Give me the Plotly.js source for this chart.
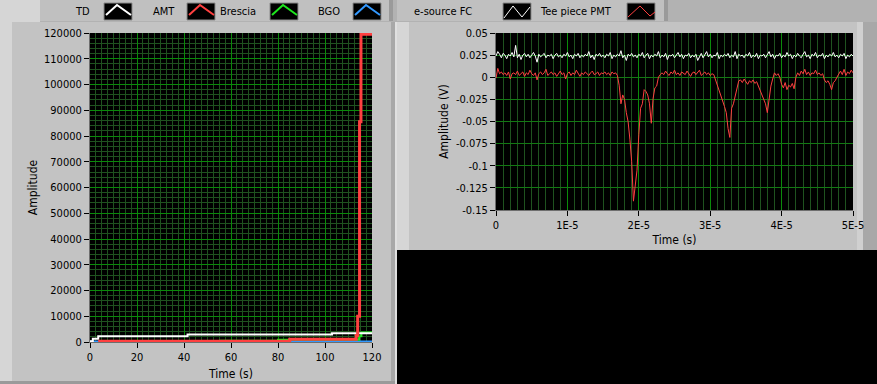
<!DOCTYPE html>
<html><head><meta charset="utf-8">
<script src="https://cdn.plot.ly/plotly-3.0.1.min.js"></script>
<style>html,body{margin:0;padding:0;background:#b4b4b4;overflow:hidden}</style>
</head><body><div id="chart" style="width:877px;height:384px"></div>
<script>
// ---------- Left chart (Amplitude vs Time, s) ----------
const tdTime = [0, 1.2, 3.5, 41.5, 103, 120];
const tdAmp  = [300, 1300, 2200, 2900, 3400, 3400];
const amtTime = [3.5, 85, 113.3, 113.9, 114.7, 115.3, 120];
const amtAmp  = [300, 1100, 2500, 10000, 85500, 119500, 119500];
const brTime = [55, 80, 113.4, 114.5, 115.5, 120];
const brAmp  = [500, 900, 900, 2200, 3700, 3700];
const bgoTime = [0, 113, 120];
const bgoAmp  = [150, 150, 300];

// ---------- Right chart (Amplitude (V) vs Time, s), sampled every 0.25 µs ----------
const waveT0 = 0;
const waveDt = 2.5e-7;
const esourceFC = [
 0.024,0.029,0.026,0.022,0.027,0.025,0.021,0.026,0.024,0.028,
 0.023,0.036,0.022,0.026,0.020,0.025,0.027,0.023,0.026,0.022,
 0.025,0.028,0.024,0.017,0.026,0.023,0.025,0.027,0.022,0.025,
 0.024,0.026,0.021,0.025,0.027,0.023,0.025,0.022,0.026,0.024,
 0.028,0.023,0.025,0.021,0.026,0.024,0.027,0.022,0.025,0.023,
 0.026,0.024,0.029,0.022,0.025,0.020,0.026,0.024,0.027,0.023,
 0.025,0.022,0.026,0.024,0.028,0.021,0.025,0.023,0.026,0.024,
 0.030,0.022,0.025,0.019,0.026,0.024,0.027,0.023,0.025,0.022,
 0.026,0.024,0.028,0.022,0.025,0.027,0.021,0.025,0.023,0.026,
 0.024,0.029,0.022,0.025,0.023,0.027,0.020,0.025,0.024,0.026,
 0.022,0.025,0.028,0.023,0.026,0.021,0.025,0.024,0.027,0.022,
 0.025,0.023,0.026,0.019,0.024,0.027,0.022,0.025,0.029,0.023,
 0.026,0.022,0.025,0.024,0.028,0.021,0.025,0.023,0.026,0.024,
 0.027,0.022,0.025,0.023,0.029,0.021,0.026,0.024,0.025,0.022,
 0.026,0.024,0.028,0.022,0.025,0.023,0.027,0.021,0.025,0.024,
 0.026,0.022,0.025,0.029,0.023,0.026,0.021,0.025,0.024,0.027,
 0.022,0.025,0.023,0.028,0.024,0.026,0.021,0.025,0.023,0.027,
 0.024,0.022,0.026,0.029,0.023,0.025,0.021,0.026,0.024,0.028,
 0.022,0.025,0.024,0.027,0.021,0.025,0.023,0.026,0.024,0.028,
 0.023,0.025,0.022,0.026,0.024,0.027,0.021,0.025,0.023,0.026,
 0.024
];
const teePiecePMT = [
 -0.001,0.010,0.004,0.006,0.003,0.005,0.002,0.006,-0.002,0.004,
 0.005,0.003,0.007,0.002,0.004,0.006,0.001,0.005,0.003,0.008,
 0.004,0.002,0.005,-0.003,0.004,0.006,0.003,0.005,0.009,0.002,
 0.004,0.006,0.003,0.005,0.001,0.004,0.007,0.003,0.005,-0.002,
 0.004,0.006,0.002,0.005,0.003,0.008,0.004,0.001,0.005,0.003,
 0.006,0.004,0.002,0.005,0.007,0.003,0.004,0.006,0.002,0.005,
 0.004,0.006,0.003,0.005,0.002,0.006,0.004,0.005,
 0.002,-0.009,-0.030,-0.020,-0.025,-0.040,-0.050,-0.070,-0.095,-0.140,
 -0.120,-0.105,-0.065,-0.035,-0.030,-0.014,-0.016,-0.020,-0.030,-0.052,
 -0.024,-0.012,-0.010,0.000,0.003,
 0.005,0.003,0.007,0.004,0.002,0.006,0.004,0.008,0.003,0.005,
 0.002,0.006,0.004,0.003,0.007,0.004,0.001,0.005,0.006,0.003,
 0.005,0.008,0.002,0.004,0.006,0.003,0.005,0.002,0.004,0.003,
 -0.003,-0.008,-0.013,-0.020,-0.026,-0.033,-0.040,-0.058,-0.068,-0.035,
 -0.030,-0.020,-0.010,-0.004,
 -0.003,-0.006,-0.002,-0.005,-0.008,-0.004,-0.006,-0.003,-0.007,-0.005,
 -0.010,-0.015,-0.020,-0.026,-0.030,-0.040,-0.025,-0.010,-0.002,0.005,
 0.002,0.004,0.000,
 -0.008,-0.012,-0.006,-0.014,-0.009,-0.011,-0.007,-0.013,
 0.000,0.005,0.002,0.007,0.004,0.009,0.003,0.006,0.002,0.005,
 0.004,0.008,0.003,0.005,0.002,0.004,
 -0.003,-0.006,-0.004,-0.008,-0.014,-0.006,-0.004,0.000,
 0.004,0.007,0.003,0.009,0.002,0.006,0.004,0.008,0.005
];
const rightYTicks = [0.05, 0.025, 0, -0.025, -0.05, -0.075, -0.1, -0.125, -0.15];
const rightYLabels = ['0.05','0.025','0','-0.025','-0.05','-0.075','-0.1','-0.125','-0.15'];
const rightXTicks = [0, 1e-5, 2e-5, 3e-5, 4e-5, 5e-5];
const rightXLabels = ['0','1E-5','2E-5','3E-5','4E-5','5E-5'];

const leftNames = ['TD','AMT','Brescia','BGO'];
const leftColors = ['#ffffff','#ff4040','#1ee61e','#3399ff'];
const rightNames = ['e-source FC','Tee piece PMT'];
const rightColors = ['#ffffff','#ff4040'];

// ---------- helpers (pixel -> paper for frame decorations) ----------
const W = 877, H = 384;
const px = x => x / W;
const py = y => 1 - y / H;
const FONT = '"DejaVu Sans Condensed", "DejaVu Sans", sans-serif';

function rect(x0,y0,x1,y1,fill,line){
  return {type:'rect',xref:'paper',yref:'paper',x0:px(x0),x1:px(x1),y0:py(y1),y1:py(y0),
          fillcolor:fill,line:{width:line?1:0,color:line||fill},layer:'below'};
}
function plotBg(xa,ya){
  return {type:'rect',xref:xa+' domain',yref:ya+' domain',x0:0,x1:1,y0:0,y1:1,
          fillcolor:'#000000',line:{width:0},layer:'below'};
}
function path(pts,color,width,layer){
  const d = pts.map((p,i)=>(i?'L':'M')+px(p[0]).toFixed(5)+','+py(p[1]).toFixed(5)).join(' ');
  return {type:'path',xref:'paper',yref:'paper',path:d,line:{color:color,width:width},layer:layer||'above'};
}

const shapes = [
  rect(0,0,877,22,'#b2b2b2'),
  rect(0,0,40,22,'#d6d6d6'),
  rect(40,0,393,21,'#c0c0c0'),
  rect(389,0,393,21,'#9a9a9a'),
  rect(397,0,668,21,'#c0c0c0'),
  rect(664,0,668,21,'#9a9a9a'),
  rect(0,22,395,384,'#c3c3c3'),
  rect(0,22,12,384,'#d6d6d6'),
  rect(391,22,395,384,'#a8a8a8'),
  rect(0,381,395,384,'#9a9a9a'),
  rect(395,22,397,384,'#e0e0e0'),
  rect(397,22,863,250,'#c3c3c3'),
  rect(397,22,409,250,'#d6d6d6'),
  rect(857,22,863,250,'#d0d0d0'),
  rect(863,22,877,250,'#a8a8a8'),
  rect(397,250,877,384,'#000000'),
  plotBg('x','y'),
  plotBg('x2','y2')
];
const annotations = [];

// left legend
const leftLegend = [[92,104],[177,187],[258,270],[342,353]];
leftNames.forEach((n,i)=>{
  const [tx,bx] = leftLegend[i];
  annotations.push({xref:'paper',yref:'paper',x:px(tx),y:py(11),xanchor:'right',yanchor:'middle',
    text:n,showarrow:false,font:{family:FONT,size:11,color:'#000'}});
  shapes.push(rect(bx,3,bx+28,20,'#000000','#8a8a8a'));
  shapes.push(path([[bx+2,15],[bx+13,5],[bx+27,15]],leftColors[i],2));
});
// right legend
const rightLegend = [[412,503],[538,627]];
rightNames.forEach((n,i)=>{
  const [tx,bx] = rightLegend[i];
  annotations.push({xref:'paper',yref:'paper',x:px(tx),y:py(11),xanchor:'left',yanchor:'middle',
    text:n,showarrow:false,font:{family:FONT,size:11,color:'#000'}});
  shapes.push(rect(bx,3,bx+28,20,'#000000','#8a8a8a'));
});
shapes.push(path([[504,18],[513,6],[522,17],[530,7]],rightColors[0],1));
shapes.push(path([[628,17],[640,6],[650,16],[655,12]],rightColors[1],1));

// ---------- traces ----------
const traces = [
  {x:bgoTime,y:bgoAmp,name:leftNames[3],line:{color:leftColors[3],width:2,shape:'hv'}},
  {x:brTime,y:brAmp,name:leftNames[2],line:{color:leftColors[2],width:2,shape:'hv'}},
  {x:tdTime,y:tdAmp,name:leftNames[0],line:{color:leftColors[0],width:2,shape:'hv'}},
  {x:amtTime,y:amtAmp,name:leftNames[1],line:{color:leftColors[1],width:3,shape:'hv'}},
  {x0:waveT0,dx:waveDt,y:esourceFC,name:rightNames[0],xaxis:'x2',yaxis:'y2',line:{color:rightColors[0],width:1}},
  {x0:waveT0,dx:waveDt,y:teePiecePMT,name:rightNames[1],xaxis:'x2',yaxis:'y2',line:{color:rightColors[1],width:1}}
].map(t=>Object.assign({type:'scatter',mode:'lines',hoverinfo:'skip',cliponaxis:true},t));

const tickFont = {family:FONT,size:11,color:'#000'};
const titleFont = {family:FONT,size:12,color:'#000'};
const common = {ticks:'outside',ticklen:5,tickwidth:1,tickcolor:'#000',zeroline:false,
  showline:true,linecolor:'#6e6e6e',linewidth:1,tickfont:tickFont,fixedrange:true,automargin:false};

const layout = {
  width:W,height:H,margin:{l:0,r:0,t:0,b:0},
  paper_bgcolor:'#b4b4b4',plot_bgcolor:'#000000',showlegend:false,
  xaxis:Object.assign({},common,{domain:[px(90),px(372)],range:[0,120],tick0:0,dtick:20,anchor:'y',
    showgrid:true,gridcolor:'#0a8a0a',gridwidth:1,
    minor:{dtick:2.5,tick0:0,showgrid:true,gridcolor:'#1f521f',gridwidth:1,ticklen:0},
    title:{text:'Time (s)',font:titleFont,standoff:6}}),
  yaxis:Object.assign({},common,{domain:[py(342),py(33)],range:[0,120000],tick0:0,dtick:10000,tickformat:'d',anchor:'x',
    showgrid:true,gridcolor:'#0a8a0a',gridwidth:1,
    minor:{dtick:2000,tick0:0,showgrid:true,gridcolor:'#1f521f',gridwidth:1,ticklen:0},
    title:{text:'Amplitude',font:titleFont,standoff:3}}),
  xaxis2:Object.assign({},common,{domain:[px(496),px(853)],range:[0,5e-5],tickmode:'array',
    tickvals:rightXTicks,ticktext:rightXLabels,anchor:'y2',
    showgrid:true,gridcolor:'#0a8a0a',gridwidth:1,
    minor:{dtick:1e-6,tick0:0,showgrid:true,gridcolor:'#1f521f',gridwidth:1,ticklen:0},
    title:{text:'Time (s)',font:titleFont,standoff:4}}),
  yaxis2:Object.assign({},common,{domain:[py(210),py(33)],range:[-0.15,0.05],tickmode:'array',
    tickvals:rightYTicks,ticktext:rightYLabels,anchor:'x2',
    showgrid:true,gridcolor:'#137813',gridwidth:1,
    title:{text:'Amplitude (V)',font:titleFont,standoff:4}}),
  shapes:shapes,annotations:annotations
};

Plotly.newPlot('chart',traces,layout,{displayModeBar:false,staticPlot:true});
</script></body></html>
